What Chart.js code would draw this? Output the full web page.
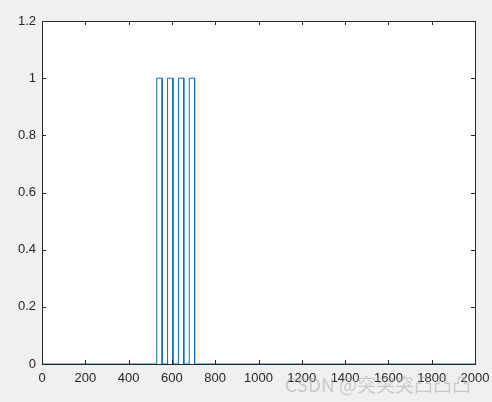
<!DOCTYPE html>
<html>
<head>
<meta charset="utf-8">
<script src="https://cdn.jsdelivr.net/npm/chart.js@4"></script>
<style>
  html, body { margin: 0; padding: 0; background: #f0f0f0; }
  #wrap { position: relative; width: 492px; height: 402px; }
  #mark { position: absolute; left: 285px; top: 370px; font: 19px "Noto Sans CJK SC", "Liberation Sans", sans-serif;
          color: rgba(170, 170, 170, 0.55); white-space: nowrap; pointer-events: none; }
</style>
</head>
<body>
<div id="wrap">
  <canvas id="myChart" width="492" height="402"></canvas>
  <div id="mark">CSDN @突突突凸凸凸</div>
</div>
<script>
// step signal: x positions and levels
const xVals = [0, 530, 530, 555, 555, 580, 580, 605, 605, 630, 630, 655, 655, 680, 680, 705, 705, 2000];
const yVals = [0, 0,   1,   1,   0,   0,   1,   1,   0,   0,   1,   1,   0,   0,   1,   1,   0,   0];

const xTicks = [0, 200, 400, 600, 800, 1000, 1200, 1400, 1600, 1800, 2000];
const yTicks = [0, 0.2, 0.4, 0.6, 0.8, 1, 1.2];
const yTickLabels = ['0', '0.2', '0.4', '0.6', '0.8', '1', '1.2'];

const axisColor = '#262626';

// white plot area behind the line
const bgPlugin = {
    id: 'plotBg',
    beforeDraw(chart) {
        const { ctx, chartArea: a } = chart;
        ctx.save();
        ctx.fillStyle = '#ffffff';
        ctx.fillRect(a.left, a.top, a.right - a.left, a.bottom - a.top);
        ctx.restore();
    }
};

// box + inward ticks like matlab axes
const boxPlugin = {
    id: 'box',
    afterDraw(chart) {
        const { ctx, chartArea: a, scales } = chart;
        ctx.save();
        ctx.strokeStyle = axisColor;
        ctx.lineWidth = 1;
        ctx.strokeRect(Math.round(a.left) + 0.5, Math.round(a.top) + 0.5,
            Math.round(a.right - a.left), Math.round(a.bottom - a.top));
        ctx.beginPath();
        scales.x.ticks.forEach(t => {
            const px = Math.round(scales.x.getPixelForValue(t.value)) + 0.5;
            ctx.moveTo(px, a.bottom); ctx.lineTo(px, a.bottom - 4);
            ctx.moveTo(px, a.top); ctx.lineTo(px, a.top + 4);
        });
        scales.y.ticks.forEach(t => {
            const py = Math.round(scales.y.getPixelForValue(t.value)) + 0.5;
            ctx.moveTo(a.left, py); ctx.lineTo(a.left + 4, py);
            ctx.moveTo(a.right, py); ctx.lineTo(a.right - 4, py);
        });
        ctx.stroke();
        ctx.restore();
    }
};

const ctx = document.getElementById('myChart').getContext('2d');
new Chart(ctx, {
    type: 'line',
    data: {
        datasets: [{
            data: xVals.map((x, i) => ({ x: x, y: yVals[i] })),
            borderColor: '#0072BD',
            borderWidth: 1,
            pointRadius: 0,
            tension: 0,
            fill: false
        }]
    },
    options: {
        responsive: false,
        animation: false,
        events: [],
        layout: { padding: { left: 0, right: 17, top: 21, bottom: 0 } },
        plugins: { legend: { display: false }, tooltip: { enabled: false } },
        scales: {
            x: {
                type: 'linear',
                min: 0, max: 2000,
                afterBuildTicks: s => { s.ticks = xTicks.map(v => ({ value: v })); },
                afterFit: s => { s.height = 38; s.paddingLeft = 0; s.paddingRight = 0; },
                grid: { display: false, drawTicks: false },
                border: { display: false },
                ticks: { color: axisColor, padding: 7, maxRotation: 0, autoSkip: false,
                         font: { family: 'Liberation Sans, Arial', size: 13 },
                         callback: v => String(v) }
            },
            y: {
                type: 'linear',
                min: 0, max: 1.2,
                afterBuildTicks: s => { s.ticks = yTicks.map(v => ({ value: v })); },
                afterFit: s => { s.width = 42; s.paddingTop = 0; s.paddingBottom = 0; },
                grid: { display: false, drawTicks: false },
                border: { display: false },
                ticks: { color: axisColor, padding: 6, autoSkip: false,
                         font: { family: 'Liberation Sans, Arial', size: 13 },
                         callback: (v) => yTickLabels[yTicks.indexOf(v)] }
            }
        }
    },
    plugins: [bgPlugin, boxPlugin]
});
</script>
</body>
</html>
